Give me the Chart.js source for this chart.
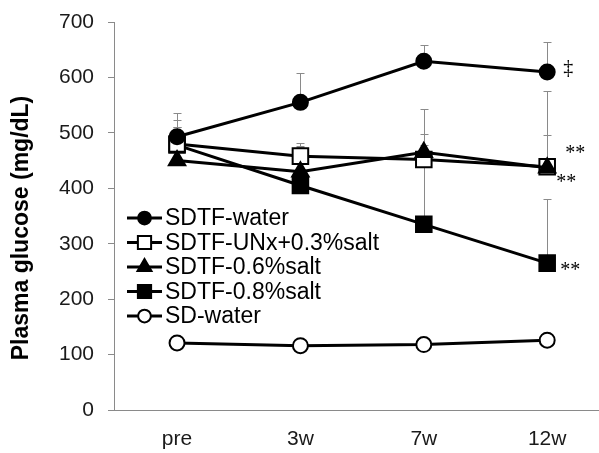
<!DOCTYPE html>
<html>
<head>
<meta charset="utf-8">
<script src="https://cdn.jsdelivr.net/npm/chart.js"></script>
<style>
  body { margin: 0; background: #fff; }
  #graf { display: block; }
</style>
</head>
<body>
<canvas id="graf" width="599" height="453"></canvas>
<script>
// categorias e valores
const semanas = ['pre', '3w', '7w', '12w'];

const sdtfAgua = [493, 555, 629, 610];
const sdtfAguaErr = [43, 53, 30, 54];

const sdtfUnx = [480, 458, 452, 439];
const sdtfUnxErr = [31, 24, 26, 136];

const sdtf06 = [450, 430, 465, 437];
const sdtf06Err = [60, 47, 33, 60];

const sdtf08 = [478, 405, 335, 265];
const sdtf08Err = [46, 70, 208, 116];

const sdAgua = [121, 116, 118, 126];
const sdAguaErr = [8, 7, 6, 9];

const yTicks = [0, 100, 200, 300, 400, 500, 600, 700];
const tituloY = 'Plasma glucose (mg/dL)';

// marcas de significância: [dataset, índice, texto]
const marcas = [
    [0, 3, '\u2021'],
    [1, 3, '**'],
    [2, 3, '**'],
    [3, 3, '**']
];

const pontos = arr => arr.map((v, i) => ({ x: i, y: v }));

function serie(label, dados, erros, estilo, raio, preenchido, ordem) {
    return {
        label: label,
        data: pontos(dados),
        erros: erros,
        borderColor: '#000',
        backgroundColor: preenchido ? '#000' : '#fff',
        borderWidth: 3,
        pointStyle: estilo,
        pointRadius: raio,
        pointBorderWidth: 2,
        pointBorderColor: '#000',
        pointBackgroundColor: preenchido ? '#000' : '#fff',
        tension: 0,
        clip: false,
        order: ordem
    };
}

// barras de erro (só para cima), desenhadas atrás dos marcadores
const barrasErro = {
    id: 'barrasErro',
    beforeDatasetsDraw(chart) {
        const ctx = chart.ctx;
        const xs = chart.scales.x, ys = chart.scales.y;
        ctx.save();
        ctx.strokeStyle = '#8a8a8a';
        ctx.lineWidth = 1;
        chart.data.datasets.forEach(ds => {
            ds.data.forEach((p, i) => {
                const x = Math.round(xs.getPixelForValue(p.x)) + 0.5;
                const y0 = ys.getPixelForValue(p.y);
                const y1 = Math.round(ys.getPixelForValue(p.y + ds.erros[i])) + 0.5;
                ctx.beginPath();
                ctx.moveTo(x, y0);
                ctx.lineTo(x, y1);
                ctx.moveTo(x - 4, y1);
                ctx.lineTo(x + 4, y1);
                ctx.stroke();
            });
        });
        ctx.restore();
    }
};

// legenda dentro da área do gráfico, com linha + marcador
const legendaInterna = {
    id: 'legendaInterna',
    afterDraw(chart, args, opts) {
        const ctx = chart.ctx;
        ctx.save();
        ctx.font = opts.fonte;
        ctx.textBaseline = 'middle';
        ctx.textAlign = 'left';
        chart.data.datasets.forEach((ds, k) => {
            const y = opts.y + k * opts.passo;
            ctx.strokeStyle = '#000';
            ctx.lineWidth = 3;
            ctx.beginPath();
            ctx.moveTo(opts.x, y);
            ctx.lineTo(opts.x + opts.largura, y);
            ctx.stroke();
            ctx.fillStyle = ds.pointBackgroundColor;
            ctx.lineWidth = 2;
            Chart.helpers.drawPoint(ctx, {
                pointStyle: ds.pointStyle,
                radius: ds.pointRadius * opts.escala,
                rotation: 0,
                borderWidth: 2
            }, opts.x + opts.largura / 2, y);
            ctx.fillStyle = '#000';
            ctx.fillText(ds.label, opts.x + opts.largura + 3, y + 1);
        });
        ctx.restore();
    }
};

// asteriscos e ‡ ao lado dos pontos de 12w
const anotacoes = {
    id: 'anotacoes',
    afterDraw(chart, args, opts) {
        const ctx = chart.ctx;
        const xs = chart.scales.x, ys = chart.scales.y;
        ctx.save();
        ctx.font = opts.fonte;
        ctx.fillStyle = '#000';
        ctx.textAlign = 'center';
        ctx.textBaseline = 'middle';
        marcas.forEach(([d, i, txt], k) => {
            const p = chart.data.datasets[d].data[i];
            const [dx, dy] = opts.desloc[k];
            ctx.fillText(txt, xs.getPixelForValue(p.x) + dx, ys.getPixelForValue(p.y) + dy);
        });
        ctx.restore();
    }
};

// título do eixo y desenhado à mão (fica um pouco abaixo do centro no original)
const tituloEixo = {
    id: 'tituloEixo',
    afterDraw(chart, args, opts) {
        const ctx = chart.ctx;
        ctx.save();
        ctx.translate(opts.x, opts.y);
        ctx.rotate(-Math.PI / 2);
        ctx.font = opts.fonte;
        ctx.fillStyle = '#000';
        ctx.textAlign = 'center';
        ctx.textBaseline = 'middle';
        ctx.fillText(tituloY, 0, 0);
        ctx.restore();
    }
};

new Chart(document.getElementById('graf'), {
    type: 'line',
    data: {
        datasets: [
            serie('SDTF-water', sdtfAgua, sdtfAguaErr, 'circle', 7.5, true, 0),
            serie('SDTF-UNx+0.3%salt', sdtfUnx, sdtfUnxErr, 'rect', 11, false, 2),
            serie('SDTF-0.6%salt', sdtf06, sdtf06Err, 'triangle', 9.5, true, 1),
            serie('SDTF-0.8%salt', sdtf08, sdtf08Err, 'rect', 11, true, 3),
            serie('SD-water', sdAgua, sdAguaErr, 'circle', 7.5, false, 4)
        ]
    },
    plugins: [barrasErro, legendaInterna, anotacoes, tituloEixo],
    options: {
        responsive: false,
        animation: false,
        layout: { autoPadding: false, padding: { top: 22, right: 0, bottom: 0, left: 0 } },
        plugins: {
            legend: { display: false },
            tooltip: { enabled: false },
            legendaInterna: { x: 127, y: 218, passo: 24.5, largura: 35, escala: 0.85, fonte: '23px "Liberation Sans", Arial, sans-serif' },
            anotacoes: { fonte: '20px "Liberation Serif", serif', desloc: [[21, -3], [28, -13], [19, 15], [23, 8]] },
            tituloEixo: { x: 22, y: 228, fonte: 'bold 23px "Liberation Sans", Arial, sans-serif' }
        },
        scales: {
            x: {
                type: 'linear',
                min: -0.511,
                max: 3.42,
                afterBuildTicks: s => { s.ticks = semanas.map((_, i) => ({ value: i })); },
                afterFit: s => { s.height = 43; s.paddingLeft = 0; s.paddingRight = 0; },
                grid: { drawOnChartArea: false, drawTicks: false },
                border: { color: '#8a8a8a', width: 1 },
                ticks: {
                    padding: 17,
                    color: '#1a1a1a',
                    font: { family: '"Liberation Sans", Arial, sans-serif', size: 21 },
                    callback: v => semanas[v]
                }
            },
            y: {
                min: 0,
                max: 700,
                afterBuildTicks: s => { s.ticks = yTicks.map(v => ({ value: v })); },
                afterFit: s => { s.width = 114; s.paddingTop = 0; s.paddingBottom = 0; },
                grid: { drawOnChartArea: false, drawTicks: true, tickLength: 6, color: '#8a8a8a' },
                border: { color: '#8a8a8a', width: 1 },
                ticks: {
                    padding: 14,
                    color: '#1a1a1a',
                    font: { family: '"Liberation Sans", Arial, sans-serif', size: 21 }
                }
            }
        }
    }
});
</script>
</body>
</html>
